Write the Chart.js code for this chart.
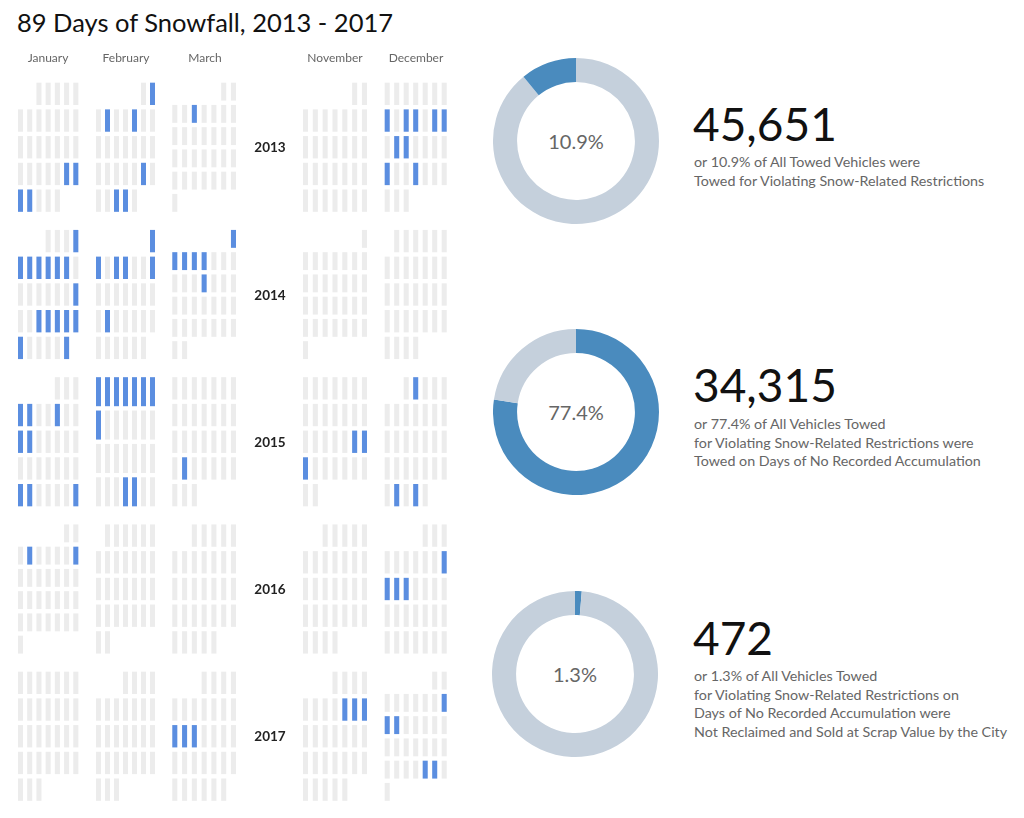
<!DOCTYPE html>
<html>
<head>
<meta charset="utf-8">
<script src="https://cdn.jsdelivr.net/npm/chart.js@4"></script>
<style>
  html, body { margin:0; padding:0; background:#fff; }
  body { width:1024px; height:818px; position:relative; overflow:hidden; font-family: Lato, "Open Sans", sans-serif; }
  .abs { position:absolute; }
  #title { left:17px; top:9.5px; font-size:25.5px; line-height:25.5px; color:#111; white-space:nowrap; }
  .month { width:90px; text-align:center; font-size:12px; line-height:14px; color:#666; top:51px; }
  .year { width:50px; text-align:center; font-size:13.5px; font-weight:bold; line-height:16px; color:#222; }
  .donut { width:166px; height:166px; }
  .pct { width:166px; text-align:center; font-size:20px; line-height:24px; color:#666; }
  .big { left:693px; font-size:46px; line-height:46px; color:#111; white-space:nowrap; }
  .sub { left:694px; font-size:14.3px; line-height:18.7px; color:#666; white-space:nowrap; }
</style>
</head>
<body>
<div id="title" class="abs">89 Days of Snowfall, 2013 - 2017</div>
<div id="calWrap" class="abs" style="left:0;top:0;width:470px;height:818px;"><canvas id="cal"></canvas></div>
<div id="overlay"></div>
<script>
// ---------------- DATA ----------------
const YEARS = [2013, 2014, 2015, 2016, 2017];
const MONTHS = ['January', 'February', 'March', 'November', 'December'];
const MONTH_NUMBERS = [1, 2, 3, 11, 12];
// snow days (day of month) per month, in MONTHS order
const snow2013 = [[25, 26, 27, 28], [2, 4, 7, 22, 26, 27], [5], [], [8, 10, 11, 13, 14, 16, 17, 22, 25]];
const snow2014 = [[4, 5, 6, 7, 8, 9, 10, 18, 21, 22, 23, 24, 25, 26, 31], [1, 2, 4, 5, 8, 17], [1, 2, 3, 4, 5, 12], [], []];
const snow2015 = [[4, 5, 8, 11, 12, 25, 26, 31], [1, 2, 3, 4, 5, 6, 7, 8, 25, 26], [23], [20, 21, 22], [2, 28, 30]];
const snow2016 = [[4, 9], [], [], [], [10, 11, 12, 13]];
const snow2017 = [[], [], [12, 13, 14], [9, 10, 11], [9, 10, 11, 28, 29]];
const SNOW = [snow2013, snow2014, snow2015, snow2016, snow2017];

const donutPercent = [10.9, 77.4, 1.3];
const towedCounts = [45651, 34315, 472];
const donutCaptions = [
  ['or 10.9% of All Towed Vehicles were', 'Towed for Violating Snow-Related Restrictions'],
  ['or 77.4% of All Vehicles Towed', 'for Violating Snow-Related Restrictions were', 'Towed on Days of No Recorded Accumulation'],
  ['or 1.3% of All Vehicles Towed', 'for Violating Snow-Related Restrictions on', 'Days of No Recorded Accumulation were', 'Not Reclaimed and Sold at Scrap Value by the City']
];

// ---------------- LAYOUT (positions / styles only) ----------------
const LAYOUT = {
  monthX: [20.5, 98.5, 174.8, 305.5, 387.2],
  colPitch: [9.22, 9.0, 9.78, 9.83, 9.5],
  monthLabelX: [48, 126, 205, 335, 416],
  yearLabelX: 270,
  blockTop: 83, yearPitch: 147.25, blockH: 128.5, gap: 5,
  donutCx: [576, 576, 575], donutCy: [141, 411.5, 674],
  bigTop: [101, 362, 615], subTop: [153, 415, 667],
  blueFirst: [false, true, true]
};
const C_GRAY = '#ececec', C_SNOW = '#5b8ee0', D_GRAY = '#c5d0dc', D_BLUE = '#4a8bbe';

// ---------------- build calendar cells ----------------
const cells = [];
YEARS.forEach((yr, yi) => {
  MONTH_NUMBERS.forEach((mn, mi) => {
    const first = new Date(yr, mn - 1, 1).getDay();
    const days = new Date(yr, mn, 0).getDate();
    const weeks = Math.ceil((first + days) / 7);
    const band = (LAYOUT.blockH + LAYOUT.gap) / weeks;
    const top0 = LAYOUT.blockTop + yi * LAYOUT.yearPitch;
    for (let d = 1; d <= days; d++) {
      const k = first + d - 1;
      const col = k % 7, row = Math.floor(k / 7);
      const t = top0 + row * band;
      cells.push({
        x: LAYOUT.monthX[mi] + col * LAYOUT.colPitch[mi],
        y: [t, t + band - LAYOUT.gap],
        snow: SNOW[yi][mi].includes(d)
      });
    }
  });
});

new Chart(document.getElementById('cal'), {
  type: 'bar',
  data: { datasets: [{
    data: cells,
    backgroundColor: ctx => (ctx.raw && ctx.raw.snow) ? C_SNOW : C_GRAY,
    borderWidth: 0,
    barThickness: 4.4,
    borderSkipped: false
  }]},
  options: {
    responsive: true, maintainAspectRatio: false, animation: false,
    layout: { padding: 0 },
    plugins: { legend: { display: false }, tooltip: { enabled: false } },
    scales: {
      x: { type: 'linear', min: 0, max: 470, offset: false, display: false },
      y: { type: 'linear', min: 0, max: 818, reverse: true, display: false }
    }
  }
});

// ---------------- labels ----------------
const ov = document.getElementById('overlay');
function addDiv(cls, text, style) {
  const d = document.createElement('div');
  d.className = 'abs ' + cls;
  d.textContent = text;
  Object.assign(d.style, style);
  ov.appendChild(d);
  return d;
}
MONTHS.forEach((m, i) => addDiv('month', m, { left: (LAYOUT.monthLabelX[i] - 45) + 'px' }));
YEARS.forEach((y, i) => addDiv('year', String(y), {
  left: (LAYOUT.yearLabelX - 25) + 'px',
  top: (LAYOUT.blockTop + i * LAYOUT.yearPitch + LAYOUT.blockH / 2 - 8) + 'px'
}));

// ---------------- donuts ----------------
donutPercent.forEach((p, i) => {
  const wrap = document.createElement('div');
  wrap.className = 'abs donut';
  wrap.style.left = (LAYOUT.donutCx[i] - 83) + 'px';
  wrap.style.top = (LAYOUT.donutCy[i] - 83) + 'px';
  const cv = document.createElement('canvas');
  wrap.appendChild(cv);
  document.body.appendChild(wrap);
  const vals = LAYOUT.blueFirst[i] ? [p, 100 - p] : [100 - p, p];
  const cols = LAYOUT.blueFirst[i] ? [D_BLUE, D_GRAY] : [D_GRAY, D_BLUE];
  new Chart(cv, {
    type: 'doughnut',
    data: { labels: LAYOUT.blueFirst[i] ? ['share', 'rest'] : ['rest', 'share'],
            datasets: [{ data: vals, backgroundColor: cols, borderWidth: 0 }] },
    options: {
      responsive: true, maintainAspectRatio: false, animation: false,
      cutout: '71%', layout: { padding: 0 },
      plugins: { legend: { display: false }, tooltip: { enabled: false } }
    }
  });
  addDiv('pct', p.toFixed(1) + '%', { left: (LAYOUT.donutCx[i] - 83) + 'px', top: (LAYOUT.donutCy[i] - 12) + 'px' });
  addDiv('big', towedCounts[i].toLocaleString('en-US'), { top: LAYOUT.bigTop[i] + 'px' });
  const sub = addDiv('sub', '', { top: LAYOUT.subTop[i] + 'px' });
  sub.innerHTML = donutCaptions[i].map(s => s.replace(/&/g, '&amp;').replace(/</g, '&lt;')).join('<br>');
});
</script>
</body>
</html>
